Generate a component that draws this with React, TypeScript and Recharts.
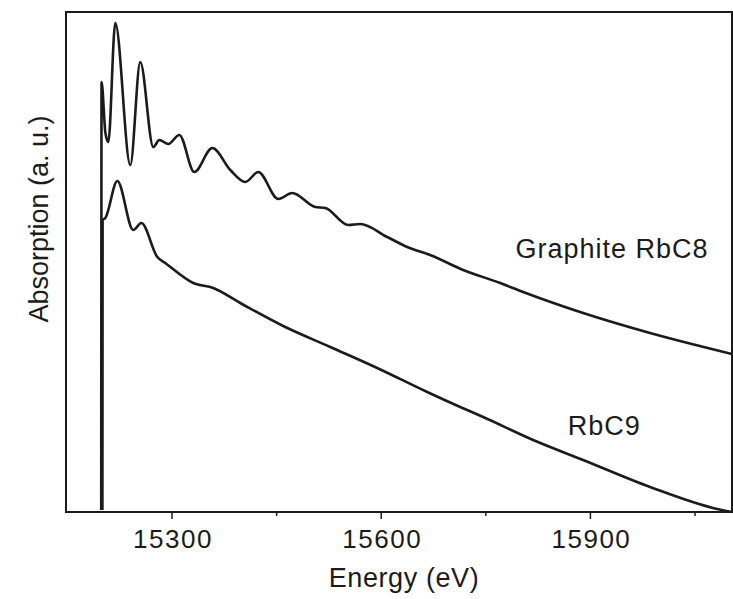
import { Label, Line, LineChart, ReferenceArea, ReferenceDot, XAxis, YAxis } from "recharts";

// energies (eV) and absorption (a. u.)
const rbc8Energy = [
  15198.5, 15199, 15204.5, 15208.7, 15218.7, 15240.2, 15254.5, 15273.2, 15281.8, 15294.7,
  15310.5, 15332, 15357.8, 15383.6, 15405.1, 15423.7, 15452.4, 15472.4, 15505.4, 15519.7,
  15552.7, 15569.9, 15608.6, 15637.3, 15670.2, 15717.5, 15770.6, 15803.5, 15889.5, 15985.5, 16103
];
const rbc8Abs = [
  0.4, 86, 75.8, 74, 97.8, 69.4, 90, 73, 74.4, 73.6,
  75.4, 68, 72.8, 68.4, 66, 68, 62.6, 63.8, 61, 60.8,
  57.4, 57.6, 55, 53, 51.4, 48.4, 45.8, 44, 39.8, 35.8, 31.6
];

const rbc9Energy = [
  15200.2, 15200.5, 15204.4, 15221.6, 15244.5, 15256, 15278.9, 15290.4, 15330.5, 15359.2,
  15397.9, 15459.5, 15526.9, 15594.2, 15665.9, 15713.2, 15746.2, 15817.9, 15889.5, 15985.5,
  16081.6, 16103
];
const rbc9Abs = [
  0.4, 58.4, 58.8, 66.2, 56.4, 57.8, 51, 49.8, 45.8, 44.8,
  41.8, 37.2, 33, 28.8, 24, 21, 19, 14.4, 10.4, 5,
  0.6, 0
];

const energyTicks = [15300, 15450, 15600, 15750, 15900, 16050];
const energyDomain = [15148, 16103];
const absDomain = [0, 100];

const seriesLabels = [
  { name: "Graphite RbC8", energy: 15931, abs: 52.8 },
  { name: "RbC9", energy: 15920, abs: 17.4 }
];

const rbc8 = rbc8Energy.map((e, i) => ({ e, a: rbc8Abs[i] }));
const rbc9 = rbc9Energy.map((e, i) => ({ e, a: rbc9Abs[i] }));

const ink = "#1b1b1b";
const font = "'Liberation Sans', Arial, sans-serif";

function EnergyTick({ x, y, payload }: any) {
  const major = payload.value % 300 === 0;
  return (
    <g>
      <line x1={x} y1={y} x2={x} y2={y + (major ? 7 : 4)} stroke={ink} strokeWidth={1.5} />
      {major && (
        <text x={x + 1} y={y + 36} textAnchor="middle" fill={ink} fontSize={26} fontFamily={font} letterSpacing={1.5}>
          {payload.value}
        </text>
      )}
    </g>
  );
}

export default function App() {
  return (
    <div style={{ position: "absolute", left: 0, top: 0, background: "#fff" }}>
      <LineChart width={733} height={599} margin={{ top: 12, right: 1, bottom: 0, left: 0 }}>
        <XAxis
          type="number"
          dataKey="e"
          domain={energyDomain}
          ticks={energyTicks}
          interval={0}
          allowDataOverflow
          axisLine={false}
          tickLine={false}
          tickSize={0}
          tickMargin={0}
          height={87}
          tick={<EnergyTick />}
        >
          <Label
            content={({ viewBox }: any) => (
              <text
                x={viewBox.x + viewBox.width / 2 + 5}
                y={viewBox.y + 75}
                textAnchor="middle"
                fill={ink}
                fontSize={27}
                fontFamily={font}
                letterSpacing={0.6}
              >
                Energy (eV)
              </text>
            )}
          />
        </XAxis>
        <YAxis type="number" dataKey="a" domain={absDomain} width={66} tick={false} axisLine={false} tickLine={false}>
          <Label
            content={({ viewBox }: any) => {
              const cx = viewBox.x + 48;
              const cy = 219;
              return (
                <text
                  x={cx}
                  y={cy}
                  transform={`rotate(-90 ${cx} ${cy})`}
                  textAnchor="middle"
                  fill={ink}
                  fontSize={27}
                  fontFamily={font}
                >
                  Absorption (a. u.)
                </text>
              );
            }}
          />
        </YAxis>
        <ReferenceArea
          x1={energyDomain[0]}
          x2={energyDomain[1]}
          y1={absDomain[0]}
          y2={absDomain[1]}
          fill="none"
          fillOpacity={0}
          stroke={ink}
          strokeWidth={2}
          ifOverflow="visible"
        />
        <Line
          data={rbc8}
          dataKey="a"
          type="monotone"
          stroke={ink}
          strokeWidth={2.6}
          dot={false}
          isAnimationActive={false}
        />
        <Line
          data={rbc9}
          dataKey="a"
          type="monotone"
          stroke={ink}
          strokeWidth={2.6}
          dot={false}
          isAnimationActive={false}
        />
        {seriesLabels.map((s) => (
          <ReferenceDot
            key={s.name}
            x={s.energy}
            y={s.abs}
            r={0}
            stroke="none"
            fill="none"
            ifOverflow="visible"
            label={{ value: s.name, position: "center", fill: ink, fontSize: 27, fontFamily: font, letterSpacing: 1 }}
          />
        ))}
      </LineChart>
    </div>
  );
}
